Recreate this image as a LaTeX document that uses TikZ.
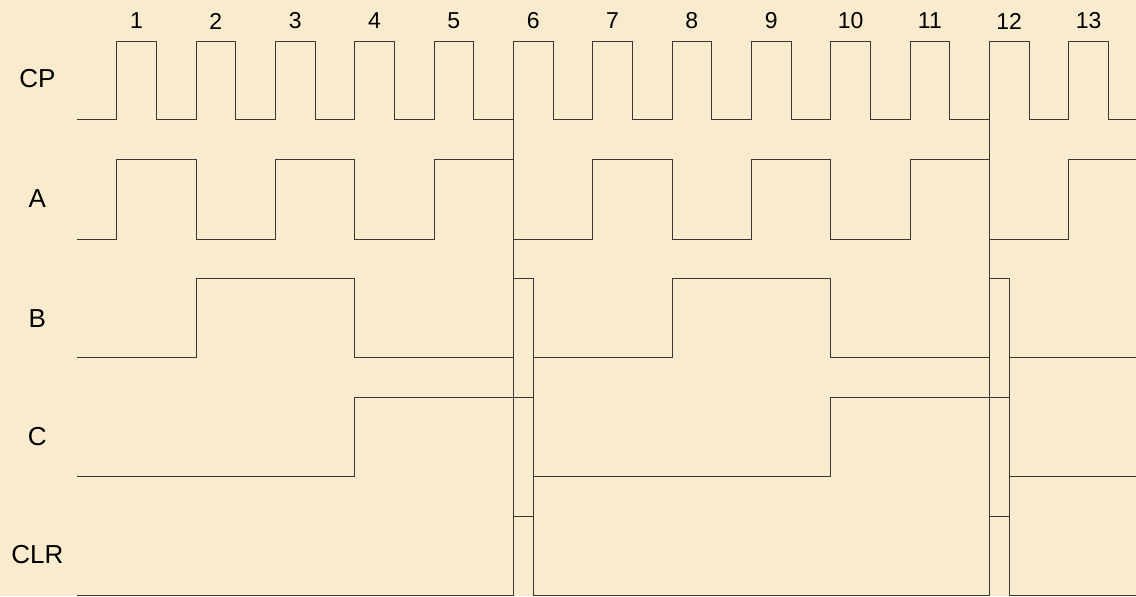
\documentclass[tikz,border=0pt]{standalone}
\usepackage{fontspec}
\setmainfont{Liberation Sans}
\usetikzlibrary{positioning}

\definecolor{parchment}{RGB}{249,236,206}
\definecolor{trace}{RGB}{60,55,50}

\begin{document}
\begin{tikzpicture}[
  x=39.667pt, y=-1pt,
  wave/.style={draw=trace,line width=0.9pt},
  signame/.style={font=\fontsize{26}{28}\selectfont,inner sep=0pt},
  pulsenum/.style={font=\fontsize{23}{25}\selectfont,inner sep=0pt},
]
  % Page
  \fill[parchment] (-2.942,0) rectangle (25.696,596);
  \useasboundingbox (-2.942,0) rectangle (25.696,596);

  % Signal names
  \node[signame] (cp)  at (-2.0,79)  {CP};
  \node[signame] (a)   at (-2.0,199) {A};
  \node[signame] (b)   at (-2.0,319) {B};
  \node[signame] (c)   at (-2.0,437) {C};
  \node[signame] (clr) at (-2.0,555) {CLR};

  % Pulse numbers
  \foreach \k in {1,...,13}
    \node[pulsenum] (n\k) at ({2*\k-1.5},21) {\k};

  % CP
  \draw[wave] (-1,119) foreach \k in {0,...,12} {
    -- ({2*\k},119) -- ({2*\k},41) -- ({2*\k+1},41) -- ({2*\k+1},119)
  } -- (25.696,119);

  % A
  \draw[wave] (-1,239) foreach \k in {0,...,5} {
    -- ({4*\k},239) -- ({4*\k},159) -- ({4*\k+2},159) -- ({4*\k+2},239)
  } -- (24,239) -- (24,159) -- (25.696,159);

  % B
  \draw[wave] (-1,357.5) -- (2,357.5) -- (2,278.5) -- (6,278.5) -- (6,357.5)
    -- (10,357.5) -- (10,278.5) -- (10.5,278.5) -- (10.5,357.5)
    -- (14,357.5) -- (14,278.5) -- (18,278.5) -- (18,357.5)
    -- (22,357.5) -- (22,278.5) -- (22.5,278.5) -- (22.5,357.5)
    -- (25.696,357.5);

  % C
  \draw[wave] (-1,476) -- (6,476) -- (6,397) -- (10.5,397) -- (10.5,476)
    -- (18,476) -- (18,397) -- (22.5,397) -- (22.5,476) -- (25.696,476);

  % CLR
  \draw[wave] (-1,595) -- (10,595) -- (10,516) -- (10.5,516) -- (10.5,595)
    -- (22,595) -- (22,516) -- (22.5,516) -- (22.5,595) -- (25.696,595);

  % Reset edges
  \foreach \t in {10,22} {
    \draw[wave] (\t,41) -- (\t,595);
    \draw[wave] ({\t+0.5},278.5) -- ({\t+0.5},595);
  }
\end{tikzpicture}
\end{document}
